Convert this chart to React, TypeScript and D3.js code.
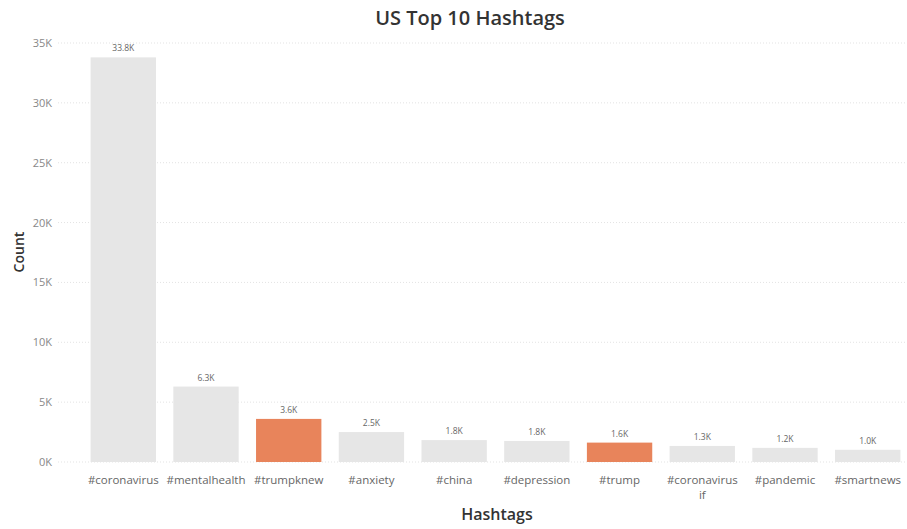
import React from "react";
import * as d3 from "d3";

const categories = ["#coronavirus", "#mentalhealth", "#trumpknew", "#anxiety", "#china", "#depression", "#trump", "#coronavirus if", "#pandemic", "#smartnews"];
const counts = [33800, 6300, 3600, 2500, 1830, 1760, 1620, 1340, 1180, 1020];
const highlighted = ["#trumpknew", "#trump"];
const yTicks = [0, 5000, 10000, 15000, 20000, 25000, 30000, 35000];

const W = 907, H = 529;
const FONT = "'Open Sans', 'DejaVu Sans', sans-serif";

export default function App() {
  const x = d3.scaleBand<string>().domain(categories).range([84, 907]).paddingInner(0.21).paddingOuter(0.08);
  const y = d3.scaleLinear().domain([0, 35000]).range([462, 43]);
  const fmt = (v: number) => (v / 1000).toFixed(1) + "K";
  return (
    <svg width={W} height={H} style={{ position: "absolute", left: 0, top: 0, background: "#fff" }} fontFamily={FONT}>
      <text x={470} y={25} textAnchor="middle" fontSize={20} fill="#333" fontWeight={600}>US Top 10 Hashtags</text>
      {yTicks.map((t) => (
        <g key={t}>
          <line x1={58} x2={907} y1={y(t)} y2={y(t)} stroke="#e3e3e3" strokeDasharray="1 2" />
          <text x={52} y={y(t) + 4} textAnchor="end" fontSize={11} fill="#888">{t / 1000}K</text>
        </g>
      ))}
      {categories.map((c, i) => {
        const bx = x(c)!;
        const bw = x.bandwidth();
        const v = counts[i];
        const lines = c === "#coronavirus if" ? ["#coronavirus", "if"] : [c];
        return (
          <g key={c}>
            <rect x={bx} y={y(v)} width={bw} height={y(0) - y(v)} fill={highlighted.includes(c) ? "#E8845B" : "#E6E6E6"} />
            <text x={bx + bw / 2} y={y(v) - 6} textAnchor="middle" fontSize={8.5} fill="#666">{fmt(v)}</text>
            {lines.map((l, j) => (
              <text key={j} x={bx + bw / 2} y={484 + j * 15} textAnchor="middle" fontSize={11.5} fill="#666">{l}</text>
            ))}
          </g>
        );
      })}
      <text x={497} y={520} textAnchor="middle" fontSize={16} fill="#333" fontWeight={600}>Hashtags</text>
      <text transform="translate(24,252) rotate(-90)" textAnchor="middle" fontSize={14} fill="#333" fontWeight={600}>Count</text>
    </svg>
  );
}
